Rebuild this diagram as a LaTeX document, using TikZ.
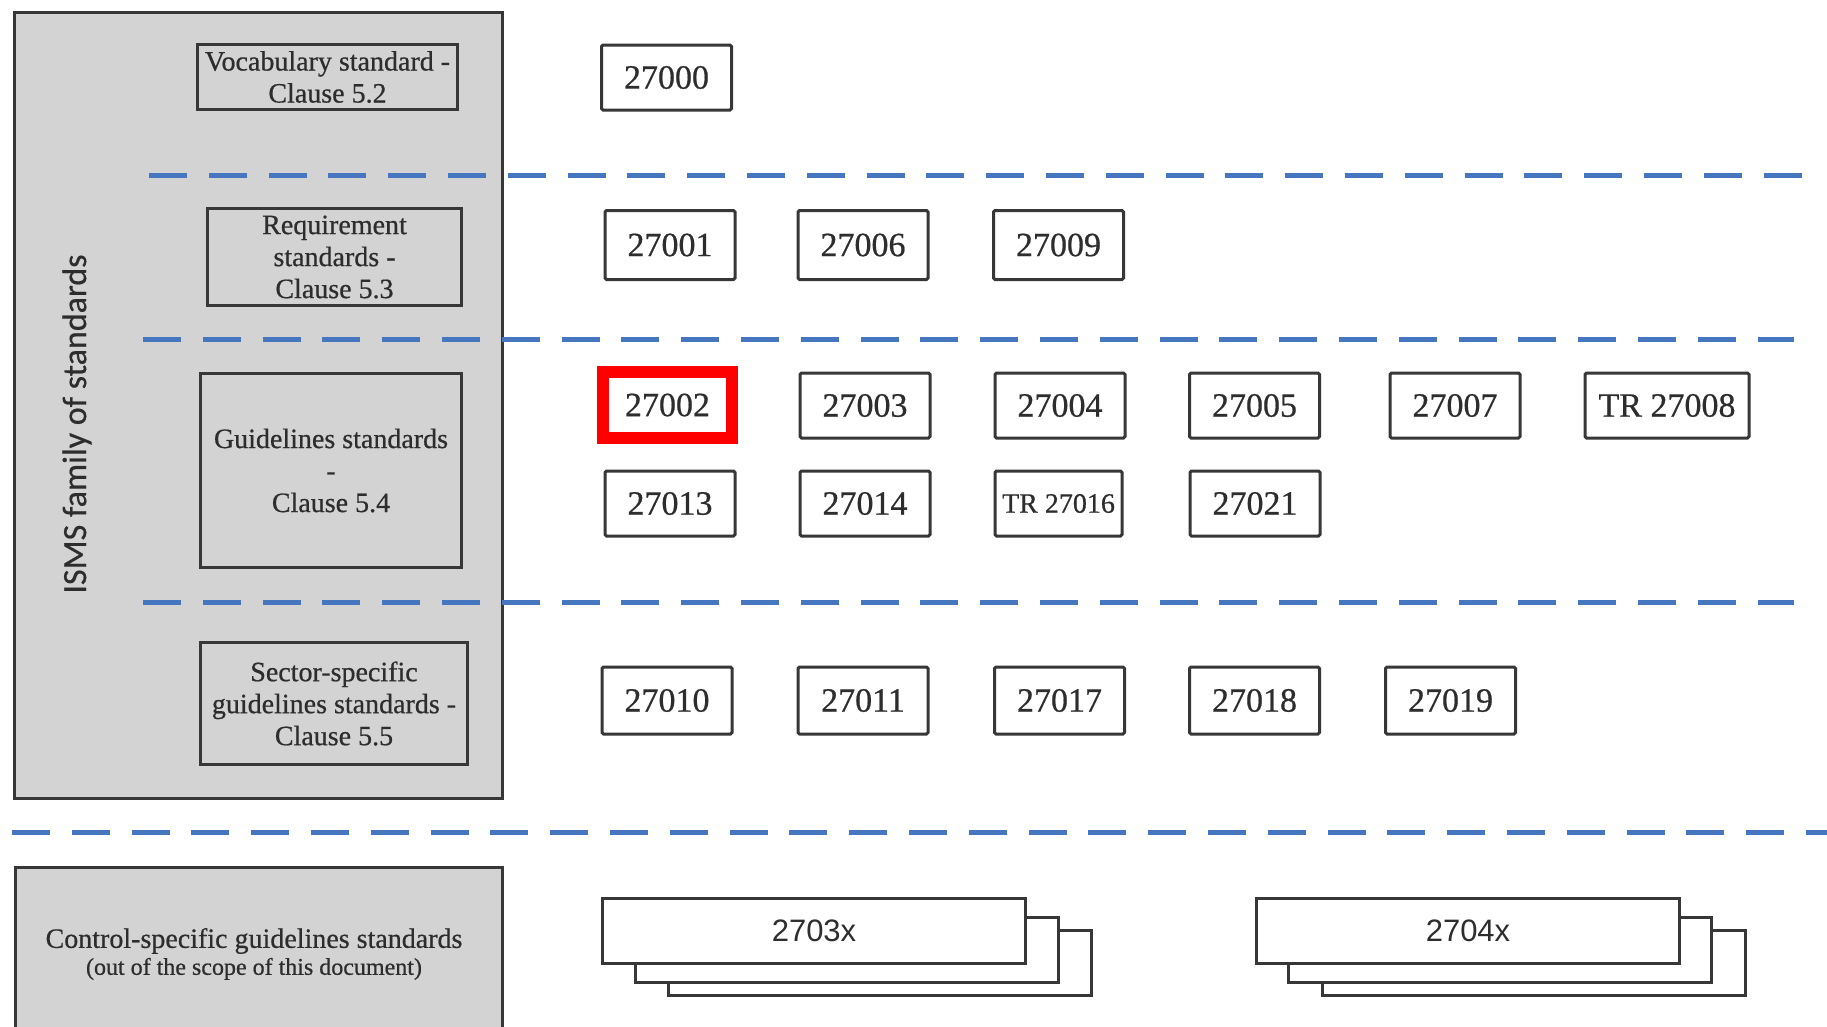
\documentclass[tikz,border=0pt]{standalone}
\usepackage{fontspec}
\setmainfont{Liberation Serif}[FakeBold=0.6]
\newfontfamily\ismsfont{Carlito}[FakeBold=0.5]
\newfontfamily\stackfont{Liberation Sans}
\definecolor{edgegrey}{RGB}{55,55,55}
\definecolor{txtgrey}{RGB}{45,45,45}
\definecolor{panelgrey}{RGB}{211,211,211}
\definecolor{dashblue}{RGB}{70,118,192}
\begin{document}
\begin{tikzpicture}[x=1pt,y=-1pt,
  frame/.style={draw=edgegrey, line width=3pt},
  numbox/.style={frame, fill=white, rounded corners=1.5pt, inner sep=0pt, text=txtgrey,
    font=\fontsize{34}{38}\selectfont, minimum width=130pt, minimum height=65pt},
  catbox/.style={frame, inner sep=0pt, align=center, text=txtgrey,
    font=\fontsize{28}{32}\selectfont},
  sep/.style={draw=dashblue, line width=5pt, dash pattern=on 38pt off 21.8pt},
  layer/.style={frame, fill=white, inner sep=0pt, minimum width=423pt, minimum height=65pt,
    text=txtgrey, font=\stackfont\fontsize{31}{34}\selectfont}]
\useasboundingbox (0,0) rectangle (1827,1026);
\fill[white] (0,0) rectangle (1827,1026);

% ISMS family panel
\node[frame, fill=panelgrey, minimum width=488pt, minimum height=786pt, inner sep=0pt] (panel) at (258.5,405.5) {};
\node[rotate=90, text=txtgrey, font=\ismsfont\fontsize{34}{38}\selectfont] (isms) at (77,424) {ISMS family of standards};

\node[catbox, minimum width=260pt, minimum height=65pt] (voc) at (327.5,77) {Vocabulary standard -\\Clause 5.2};
\node[catbox, minimum width=254pt, minimum height=97pt] (req) at (334.5,257) {Requirement\\standards -\\Clause 5.3};
\node[catbox, minimum width=261pt, minimum height=194pt] (gui) at (331,470.5) {Guidelines standards\\-\\Clause 5.4};
\node[catbox, minimum width=267pt, minimum height=122pt] (sec) at (334,703.5) {Sector-specific\\guidelines standards -\\Clause 5.5};

% control-specific panel (cut by the bottom edge)
\begin{scope}
\clip (0,0) rectangle (1827,1026);
\draw[frame, fill=panelgrey] (15.5,1040) -- (15.5,867.5) -- (502.5,867.5) -- (502.5,1040);
\end{scope}
\node[align=center, text=txtgrey, inner sep=0pt] (ctrl) at (254,954)
  {{\fontsize{28}{32}\selectfont Control-specific guidelines standards}\\[3pt]
   {\fontsize{24}{28}\selectfont (out of the scope of this document)}};

% separators
\coordinate (s1a) at (149,175);  \coordinate (s1b) at (1802,175);
\coordinate (s2a) at (143,339);  \coordinate (s2b) at (1794,339);
\coordinate (s3a) at (143,602);  \coordinate (s3b) at (1794,602);
\coordinate (s4a) at (12,832);   \coordinate (s4b) at (1827,832);
\draw[sep] (s1a) -- (s1b);
\draw[sep] (s2a) -- (s2b);
\draw[sep] (s3a) -- (s3b);
\draw[sep] (s4a) -- (s4b);

% standards
\node[numbox] (n27000) at (666.5,77.5) {27000};

\node[numbox, minimum height=69pt] (n27001) at (670,245) {27001};
\node[numbox, minimum height=69pt] (n27006) at (863,245) {27006};
\node[numbox, minimum height=69pt] (n27009) at (1058.5,245) {27009};

\node[numbox, draw=red, line width=12pt, rounded corners=0pt, minimum width=129pt, minimum height=66pt] (n27002) at (667.5,405) {27002};
\node[numbox] (n27003) at (865,405.5) {27003};
\node[numbox] (n27004) at (1060,405.5) {27004};
\node[numbox] (n27005) at (1254.5,405.5) {27005};
\node[numbox] (n27007) at (1455,405.5) {27007};
\node[numbox, minimum width=164pt] (n27008) at (1667,405.5) {TR 27008};

\node[numbox] (n27013) at (670,503.5) {27013};
\node[numbox] (n27014) at (865,503.5) {27014};
\node[numbox, minimum width=127pt, font=\fontsize{28}{32}\selectfont] (n27016) at (1058.5,503.5) {TR 27016};
\node[numbox] (n27021) at (1255,503.5) {27021};

\node[numbox, minimum height=67pt] (n27010) at (667,700.5) {27010};
\node[numbox, minimum height=67pt] (n27011) at (863,700.5) {27011};
\node[numbox, minimum height=67pt] (n27017) at (1059.5,700.5) {27017};
\node[numbox, minimum height=67pt] (n27018) at (1254.5,700.5) {27018};
\node[numbox, minimum height=67pt] (n27019) at (1450.5,700.5) {27019};

% stacked series
\node[layer] (s3c) at (880,962.5) {};
\node[layer] (s3b) at (847,949.5) {};
\node[layer] (s3a) at (814,930.5) {2703x};

\node[layer] (s4c) at (1533.5,962.5) {};
\node[layer] (s4b) at (1500,949.5) {};
\node[layer] (s4a) at (1468,930.5) {2704x};
\end{tikzpicture}
\end{document}
